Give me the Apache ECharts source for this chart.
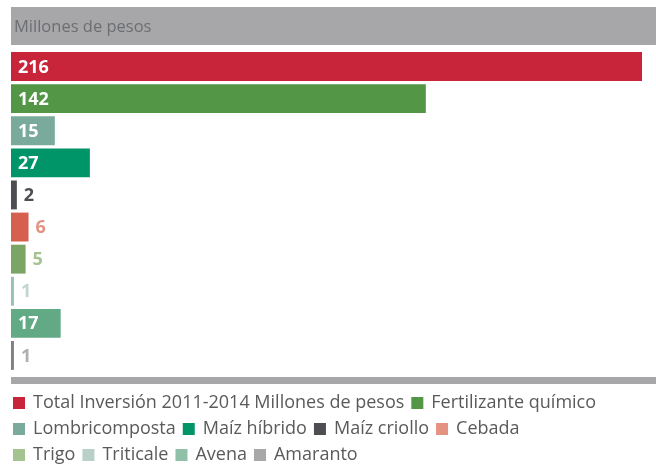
<!DOCTYPE html>
<html><head><meta charset="utf-8">
<script src="https://cdn.jsdelivr.net/npm/echarts@6/dist/echarts.min.js"></script>
<style>html,body{margin:0;padding:0;background:#fff}#c{width:656px;height:466px}</style>
</head><body><div id="c"></div>
<script>
const categories = ['Total Inversión 2011-2014 Millones de pesos','Fertilizante químico','Lombricomposta','Maíz híbrido','Maíz criollo','Cebada','Trigo','Triticale','Avena','Amaranto'];
const values = [216, 142, 15, 27, 2, 6, 5, 1, 17, 1];
const barColors = ['#c8243a','#529646','#7aaa9c','#009469','#4d4d52','#d66050','#7aa565','#9ac0b5','#62aa85','#808080'];
const legendColors = ['#c8243a','#529646','#7aaa9c','#009469','#4d4d52','#e49383','#a5c38f','#b8d0c8','#90c0a8','#a8a8a8'];
const labelColors = ['#ffffff','#ffffff','#ffffff','#ffffff','#4d4d52','#e49383','#a5c38f','#c0d5ce','#ffffff','#b0b0b0'];
const insideLabel = [true,true,true,true,false,false,false,false,true,false];
const legendRows = [[0,1],[2,3,4,5],[6,7,8,9]];
const headerText = 'Millones de pesos';

const chart = echarts.init(document.getElementById('c'));
const series = categories.map((name, i) => ({
  name: name,
  type: 'bar',
  stack: 'all',
  barCategoryGap: '10%',
  itemStyle: { color: barColors[i] },
  label: {
    show: true,
    position: insideLabel[i] ? 'insideLeft' : 'right',
    distance: 7,
    offset: [0, 1],
    color: labelColors[i],
    fontFamily: 'Open Sans',
    fontWeight: 'bold',
    fontSize: 18,
    formatter: '{c}'
  },
  data: values.map((v, j) => j === i ? v : '-')
}));
const legends = legendRows.map((row, r) => ({
  top: 389 + r * 26,
  left: 8,
  orient: 'horizontal',
  itemWidth: 12,
  itemHeight: 12,
  itemGap: 7,
  icon: 'rect',
  textStyle: { fontFamily: 'Open Sans', fontSize: 18, color: '#5a5a5c', padding: [0, 0, 0, 3] },
  data: row.map(i => ({ name: categories[i], itemStyle: { color: legendColors[i] } })),
  selectedMode: false
}));
chart.setOption({
  animation: false,
  grid: { left: 11, right: 14, top: 50.5, height: 321, containLabel: false },
  xAxis: { type: 'value', min: 0, max: 216, show: false },
  yAxis: { type: 'category', data: categories, inverse: true, show: false },
  legend: legends,
  graphic: [
    { type: 'rect', shape: { x: 11, y: 7, width: 645, height: 38 }, style: { fill: '#a7a7a9' } },
    { type: 'text', x: 14, y: 27.5, style: { text: headerText, fill: '#6d6e71', fontFamily: 'Open Sans', fontSize: 16.5, verticalAlign: 'middle' } },
    { type: 'rect', shape: { x: 11, y: 377, width: 645, height: 7 }, style: { fill: '#a7a7a9' } }
  ],
  series: series
});
</script></body></html>
